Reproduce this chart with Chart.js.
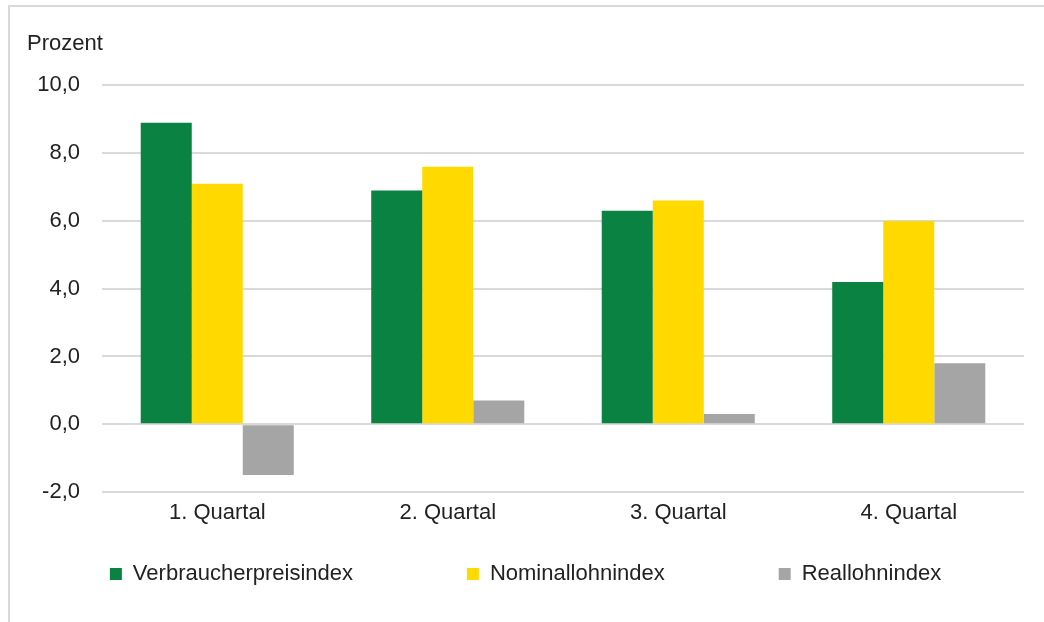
<!DOCTYPE html>
<html>
<head>
<meta charset="utf-8">
<script src="https://cdn.jsdelivr.net/npm/chart.js@4"></script>
<style>
    body { margin: 0; background: #fff; }
    #frame {
        position: absolute; left: 8px; top: 5px;
        width: 1100px; height: 700px;
        border: 2px solid #d9d9d9;
    }
    #wrap { position: absolute; left: 0; top: 0; width: 1044px; height: 622px; }
</style>
</head>
<body>
<div id="frame"></div>
<div id="wrap"><canvas id="lohnChart"></canvas></div>
<script>
const quarters = ["1. Quartal", "2. Quartal", "3. Quartal", "4. Quartal"];
const seriesNames = ["Verbraucherpreisindex", "Nominallohnindex", "Reallohnindex"];
const verbraucherpreis = [8.9, 6.9, 6.3, 4.2];
const nominallohn = [7.1, 7.6, 6.6, 6.0];
const reallohn = [-1.5, 0.7, 0.3, 1.8];
const seriesColors = ["#0a8241", "#ffd900", "#a5a5a5"];
const yMin = -2, yMax = 10, yStep = 2;

const textFont = { family: 'Liberation Sans', size: 22 };
const textColor = '#222';
// trailing spaces widen legend items horizontally without making the legend taller
const legendGap = ' '.repeat(17);

function germanNumber(v) {
    return v.toFixed(1).replace('.', ',');
}

function initializeChart() {
    const ctx = document.getElementById('lohnChart').getContext('2d');
    const values = [verbraucherpreis, nominallohn, reallohn];

    new Chart(ctx, {
        type: 'bar',
        data: {
            labels: quarters,
            datasets: seriesNames.map((name, i) => ({
                label: name,
                data: values[i],
                backgroundColor: seriesColors[i],
                borderWidth: 0,
                barPercentage: 1,
                categoryPercentage: 0.664
            }))
        },
        options: {
            responsive: true,
            maintainAspectRatio: false,
            animation: false,
            layout: {
                padding: { left: 27, right: 20, top: 31, bottom: 27 }
            },
            plugins: {
                title: {
                    display: true,
                    text: 'Prozent',
                    align: 'start',
                    color: textColor,
                    font: { family: 'Liberation Sans', size: 22, weight: 'normal' },
                    padding: { top: 0, bottom: 28 }
                },
                legend: {
                    position: 'bottom',
                    labels: {
                        boxWidth: 12,
                        boxHeight: 12,
                        padding: 10,
                        color: textColor,
                        font: textFont,
                        generateLabels: function(chart) {
                            const items = Chart.defaults.plugins.legend.labels.generateLabels(chart);
                            items.forEach((item, i) => {
                                if (i < items.length - 1) item.text += legendGap;
                            });
                            return items;
                        }
                    }
                },
                tooltip: { enabled: false }
            },
            scales: {
                x: {
                    afterFit: function(scale) { scale.height = 61; },
                    grid: { display: false, drawTicks: false },
                    border: { display: false },
                    ticks: {
                        color: textColor,
                        padding: 8,
                        font: textFont
                    }
                },
                y: {
                    min: yMin,
                    max: yMax,
                    afterFit: function(scale) { scale.width = 75; },
                    grid: { color: '#d9d9d9', lineWidth: 2, drawTicks: false },
                    border: { display: false },
                    ticks: {
                        stepSize: yStep,
                        color: textColor,
                        padding: 22,
                        font: textFont,
                        callback: function(v) { return germanNumber(v); }
                    }
                }
            }
        }
    });
}

document.addEventListener('DOMContentLoaded', initializeChart);
</script>
</body>
</html>
